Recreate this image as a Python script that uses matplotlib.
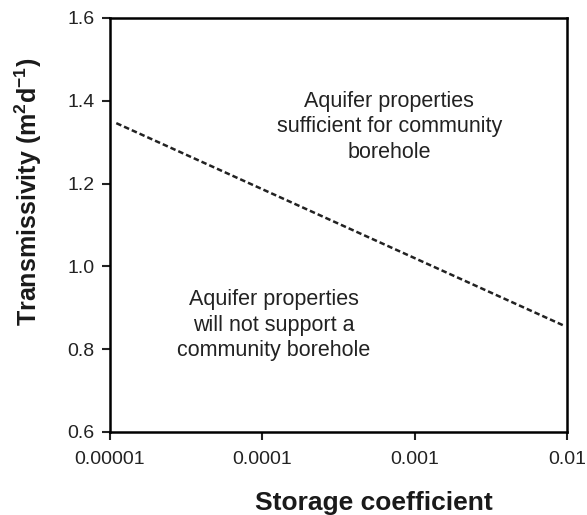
import matplotlib.pyplot as plt
from matplotlib.ticker import FixedLocator, FixedFormatter

plt.rcParams['font.family'] = ['Liberation Sans', 'DejaVu Sans']
plt.rcParams['mathtext.fontset'] = 'custom'
plt.rcParams['mathtext.rm'] = 'Liberation Sans:bold'
plt.rcParams['mathtext.it'] = 'Liberation Sans:bold'
plt.rcParams['mathtext.bf'] = 'Liberation Sans:bold'

# threshold line: storage coefficient vs transmissivity
storage = [1.1e-5, 9.4e-3]
transmissivity = [1.346, 0.858]

xticks = [1e-5, 1e-4, 1e-3, 1e-2]
xtick_labels = ['0.00001', '0.0001', '0.001', '0.01']
yticks = [0.6, 0.8, 1.0, 1.2, 1.4, 1.6]

fig = plt.figure(figsize=(5.87, 5.15), dpi=100)
ax = fig.add_axes([110 / 587, 1 - 432 / 515, 457 / 587, 414 / 515])

ax.plot(storage, transmissivity, color='#222222', linestyle=(0, (2.2, 1.2)), linewidth=1.8)

ax.set_xscale('log')
ax.set_xlim(1e-5, 1e-2)
ax.set_ylim(0.6, 1.6)
ax.xaxis.set_major_locator(FixedLocator(xticks))
ax.xaxis.set_major_formatter(FixedFormatter(xtick_labels))
ax.xaxis.set_minor_locator(FixedLocator([]))
ax.set_yticks(yticks)
ax.set_yticklabels(['%.1f' % v for v in yticks])

for s in ax.spines.values():
    s.set_linewidth(1.8)
ax.tick_params(direction='out', length=6, width=1.5, labelsize=14, colors='#222222')
ax.tick_params(axis='x', pad=8)
ax.tick_params(axis='y', pad=5)

fig.text(374 / 587, 1 - 503 / 515, 'Storage coefficient', ha='center', va='center',
         fontsize=19, fontweight='bold', color='#1a1a1a')
fig.text(28 / 587, 1 - 192 / 515, r'Transmissivity (m$^{2}$d$^{-1}$)', ha='center', va='center',
         rotation=90, fontsize=18, fontweight='bold', color='#1a1a1a')

ax.text(6.8e-4, 1.337, 'Aquifer properties\nsufficient for community\nborehole',
        ha='center', va='center', fontsize=15.5, color='#222222', linespacing=1.3)
ax.text(1.19e-4, 0.858, 'Aquifer properties\nwill not support a\ncommunity borehole',
        ha='center', va='center', fontsize=15.5, color='#222222', linespacing=1.3)

fig.savefig('out.png', dpi=100)
